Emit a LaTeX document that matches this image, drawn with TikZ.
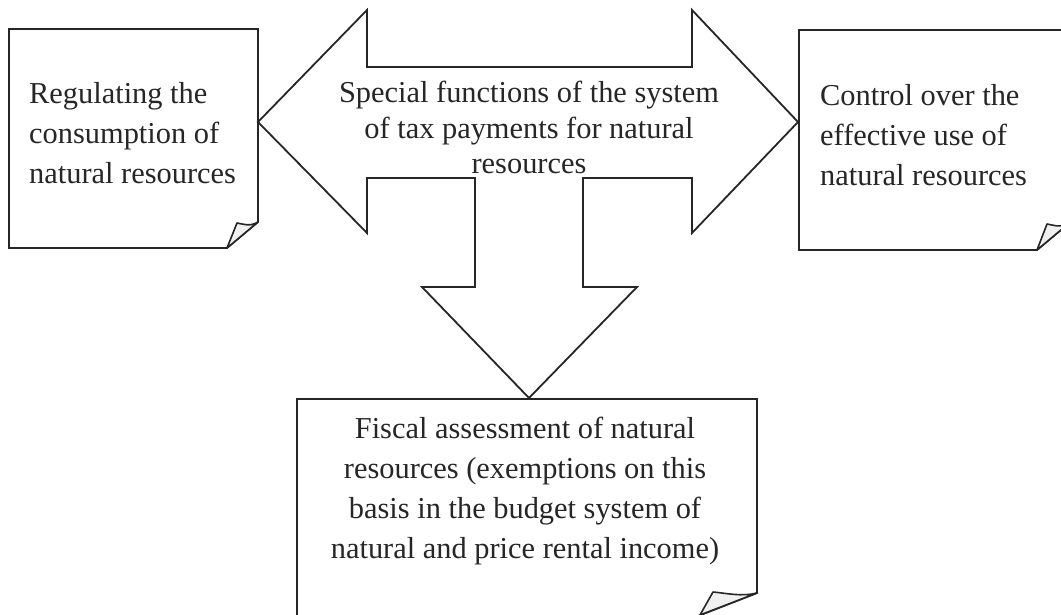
\documentclass[tikz,border=0pt]{standalone}
\usepackage{fontspec}
\setmainfont{Liberation Serif}
\begin{document}
\begin{tikzpicture}[x=1pt,y=-1pt,
  outline/.style={draw=black!85, line width=1.8pt, line join=miter},
  flap/.style={draw=black!85, line width=1.6pt, fill=gray!12, line join=round},
  txt/.style={inner sep=0pt, font=\fontsize{30.4}{40}\selectfont, text=black!85}]
\useasboundingbox (0,0) rectangle (1061,615);
\fill[white] (0,0) rectangle (1061,615);
\clip (0,0) rectangle (1061,615);
% central three-way arrow
\draw[outline] (258,122) -- (367,10) -- (367,67) -- (692,67) -- (692,10) -- (798,122)
  -- (692,233) -- (692,178) -- (583,178) -- (583,287) -- (637,287) -- (529,398)
  -- (422,287) -- (475,287) -- (475,178) -- (367,178) -- (367,233) -- cycle;
% left box
\draw[outline] (9,29) -- (258,29) -- (258,222) -- (227,248) -- (9,248) -- cycle;
\draw[flap] (258,222) .. controls (250,227) and (243,224) .. (237,223) -- (227,248) -- cycle;
% right box
\draw[outline] (799,30) -- (1068,30) -- (1068,224) -- (1037,250) -- (799,250) -- cycle;
\draw[flap] (1068,224) .. controls (1060,228) and (1053,225) .. (1047,224) -- (1037,250) -- cycle;
% bottom box
\draw[outline] (297,399) -- (757,399) -- (757,593) -- (693,618) -- (297,618) -- cycle;
\draw[flap] (757,593) .. controls (742,597) and (725,593) .. (713,592) -- (700,615) -- cycle;
% texts
\node[txt, align=center, anchor=north, font=\fontsize{30.4}{35.5}\selectfont] (center) at (529,81)
  {Special functions of the system\\of tax payments for natural\\resources};
\node[txt, align=left, anchor=north west] (regulate) at (29,82)
  {Regulating the\\consumption of\\natural resources};
\node[txt, align=left, anchor=north west] (control) at (820,84)
  {Control over the\\effective use of\\natural resources};
\node[txt, align=center, anchor=north] (fiscal) at (525,417)
  {Fiscal assessment of natural\\resources (exemptions on this\\basis in the budget system of\\natural and price rental income)};
\end{tikzpicture}
\end{document}
